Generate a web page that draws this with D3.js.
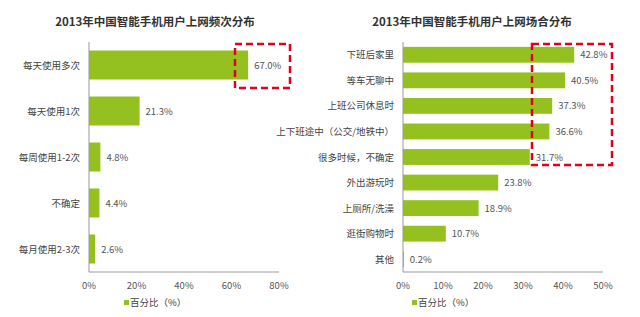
<!DOCTYPE html>
<html>
<head>
<meta charset="utf-8">
<script src="https://cdn.jsdelivr.net/npm/d3@7"></script>
<style>
body { margin:0; background:#fff; }
text { font-family: "Noto Sans CJK SC", "DejaVu Sans", sans-serif; }
</style>
</head>
<body>
<script>
// left chart data
var freq_cats = ['每天使用多次', '每天使用1次', '每周使用1-2次', '不确定', '每月使用2-3次']
var freq_vals = [67.0, 21.3, 4.8, 4.4, 2.6]
var freq_ticks = [0, 20, 40, 60, 80]

// right chart data
var place_cats = ['下班后家里', '等车无聊中', '上班公司休息时', '上下班途中（公交/地铁中）', '很多时候，不确定', '外出游玩时', '上厕所/洗澡', '逛街购物时', '其他']
var place_vals = [42.8, 40.5, 37.3, 36.6, 31.7, 23.8, 18.9, 10.7, 0.2]
var place_ticks = [0, 10, 20, 30, 40, 50]

var legend_label = '百分比（%）'
var bar_color = '#94c11f'

var svg = d3.select('body').append('svg').attr('width', 640).attr('height', 317)

function draw_chart(opts) {
	var g = svg.append('g')
	var x = d3.scaleLinear().domain([0, opts.max]).range([opts.x0, opts.x1])
	var y = d3.scaleBand().domain(opts.cats).range([42, 272]).paddingInner(opts.pad).paddingOuter(opts.pad / 2)

	g.append('text').attr('x', opts.title_x).attr('y', 26).attr('text-anchor', 'middle')
		.attr('font-size', 11.5).attr('font-weight', 'bold').attr('fill', '#333').text(opts.title)

	g.selectAll('.bar').data(opts.vals).enter().append('rect')
		.attr('class', 'bar')
		.attr('x', x(0))
		.attr('y', (d, i) => y(opts.cats[i]))
		.attr('width', d => x(d) - x(0))
		.attr('height', y.bandwidth())
		.attr('fill', bar_color)

	g.selectAll('.val').data(opts.vals).enter().append('text')
		.attr('x', d => x(d) + 6)
		.attr('y', (d, i) => y(opts.cats[i]) + y.bandwidth() / 2 + 3.5)
		.attr('font-size', 9.5).attr('fill', '#555')
		.text(d => d.toFixed(1) + '%')

	g.selectAll('.cat').data(opts.cats).enter().append('text')
		.attr('x', x(0) - 9)
		.attr('y', d => y(d) + y.bandwidth() / 2 + 3.5)
		.attr('text-anchor', 'end')
		.attr('font-size', 9.5).attr('fill', '#444')
		.text(d => d)

	// axes lines
	g.append('line').attr('x1', x(0)).attr('x2', x(0)).attr('y1', 42).attr('y2', 272).attr('stroke', '#999')
	g.append('line').attr('x1', x(0)).attr('x2', x(opts.max)).attr('y1', 272).attr('y2', 272).attr('stroke', '#999')

	g.selectAll('.tick').data(opts.ticks).enter().append('text')
		.attr('x', d => x(d))
		.attr('y', 289)
		.attr('text-anchor', 'middle')
		.attr('font-size', 9.5).attr('fill', '#555')
		.text(d => d + '%')

	g.append('rect').attr('x', opts.leg_x).attr('y', 300).attr('width', 5).attr('height', 5).attr('fill', bar_color)
	g.append('text').attr('x', opts.leg_x + 6).attr('y', 306).attr('font-size', 9.5).attr('fill', '#444').text(legend_label)

	g.append('rect').attr('x', opts.box[0]).attr('y', opts.box[1]).attr('width', opts.box[2]).attr('height', opts.box[3])
		.attr('fill', 'none').attr('stroke', '#e2001a').attr('stroke-width', 2.5).attr('stroke-dasharray', '7,4')
}

draw_chart({
	title: '2013年中国智能手机用户上网频次分布', title_x: 155,
	cats: freq_cats, vals: freq_vals, ticks: freq_ticks, max: 80,
	x0: 89, x1: 279, pad: 0.37, leg_x: 124,
	box: [235, 44, 55, 44]
})

draw_chart({
	title: '2013年中国智能手机用户上网场合分布', title_x: 472,
	cats: place_cats, vals: place_vals, ticks: place_ticks, max: 50,
	x0: 403, x1: 603, pad: 0.38, leg_x: 412,
	box: [532, 44, 80, 121]
})
</script>
</body>
</html>
